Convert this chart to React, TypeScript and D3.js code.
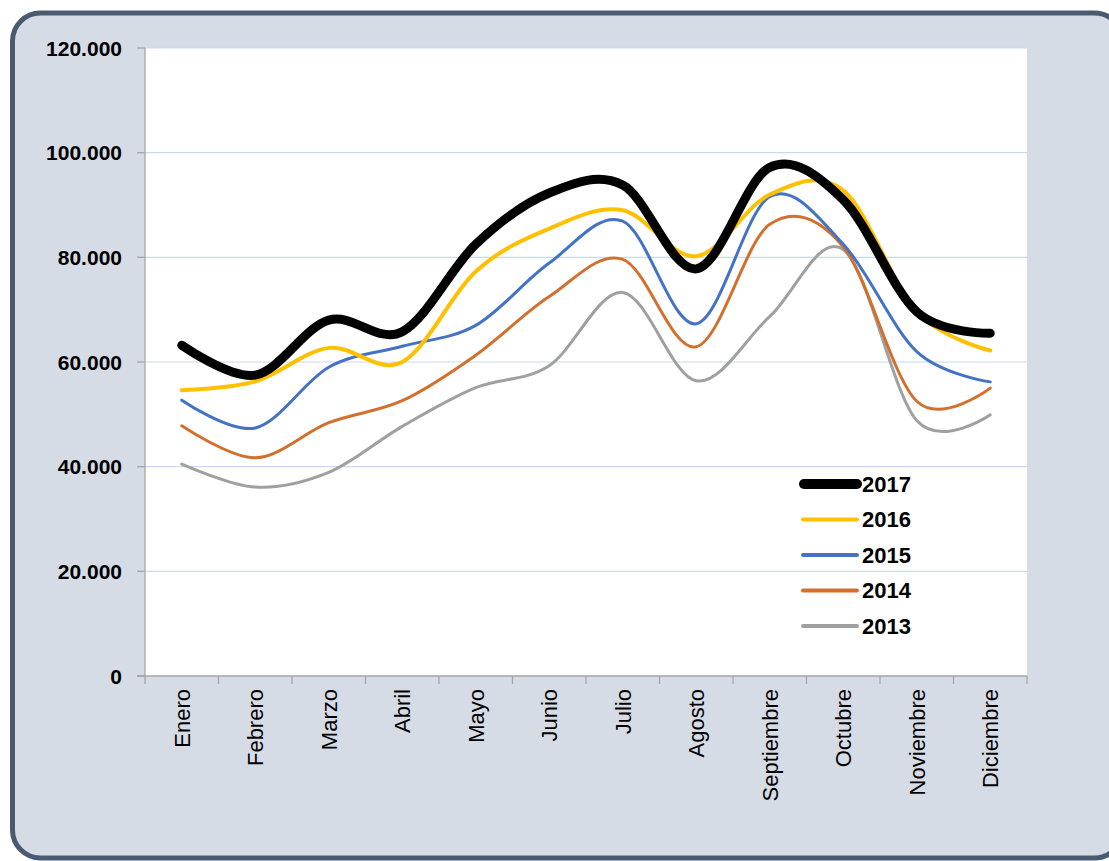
import React from "react";
import * as d3 from "d3";

const months = ["Enero","Febrero","Marzo","Abril","Mayo","Junio","Julio","Agosto","Septiembre","Octubre","Noviembre","Diciembre"];
const yTicks = [0, 20000, 40000, 60000, 80000, 100000, 120000];

const s2017 = [63200, 57500, 68000, 65800, 82500, 92300, 93800, 77800, 97200, 91000, 69600, 65500];
const s2016 = [54600, 56300, 62700, 60000, 77300, 85500, 89000, 80200, 92000, 92800, 69600, 62200];
const s2015 = [52700, 47400, 59000, 63000, 67000, 78900, 86900, 67300, 91600, 82500, 62000, 56200];
const s2014 = [47800, 41700, 48400, 52600, 61300, 72500, 79600, 62900, 86300, 82000, 52500, 55000];
const s2013 = [40500, 36100, 38900, 47700, 55100, 59300, 73300, 56400, 68700, 81500, 48800, 49900];

const seriesNames = ["2017", "2016", "2015", "2014", "2013"];
const seriesData = [s2017, s2016, s2015, s2014, s2013];
const seriesColors = ["#000000", "#ffc000", "#4472c4", "#d2702e", "#a0a0a0"];
const seriesWidths = [9, 4, 3, 3, 3];

const W = 1109, H = 861;
const plot = { left: 145, right: 1027, top: 48, bottom: 676 };

export default function App() {
  const x = d3.scaleBand<string>().domain(months).range([plot.left, plot.right]);
  const y = d3.scaleLinear().domain([0, 120000]).range([plot.bottom, plot.top]);
  const fmt = (v: number) => (v === 0 ? "0" : d3.format(",")(v).replace(/,/g, "."));
  const line = d3
    .line<number>()
    .x((_, i) => (x(months[i]) as number) + x.bandwidth() / 2)
    .y((d) => y(d))
    .curve(d3.curveCardinal.tension(0));

  const boundaries = d3.range(months.length + 1).map((i) => plot.left + i * x.step());
  const font = "'Liberation Sans', Arial, sans-serif";

  return (
    <svg width={W} height={H} style={{ position: "absolute", left: 0, top: 0 }} fontFamily={font}>
      <rect x={0} y={0} width={W} height={H} fill="#ffffff" />
      <rect x={12.5} y={13} width={1110} height={845} rx={28} ry={28} fill="#d6dce6" stroke="#4a5a70" strokeWidth={5} />
      <rect x={plot.left} y={plot.top} width={plot.right - plot.left} height={plot.bottom - plot.top} fill="#ffffff" />
      {yTicks.filter((t) => t > 0).map((t) => (
        <line key={"g" + t} x1={plot.left} x2={plot.right} y1={y(t)} y2={y(t)} stroke="#c6daf2" strokeWidth={1.2} />
      ))}
      <line x1={plot.left} x2={plot.left} y1={plot.top} y2={plot.bottom} stroke="#a6a6a6" strokeWidth={1.3} />
      <line x1={plot.left - 8} x2={plot.right} y1={plot.bottom} y2={plot.bottom} stroke="#a6a6a6" strokeWidth={1.5} />
      {yTicks.map((t) => (
        <g key={"t" + t}>
          <line x1={plot.left - 8} x2={plot.left} y1={y(t)} y2={y(t)} stroke="#a6a6a6" strokeWidth={1.3} />
          <text x={122} y={y(t)} dy="0.36em" textAnchor="end" fontSize={21} fontWeight="bold" fill="#000">
            {fmt(t)}
          </text>
        </g>
      ))}
      {boundaries.map((b, i) => (
        <line key={"b" + i} x1={b} x2={b} y1={plot.bottom} y2={plot.bottom + 8} stroke="#a6a6a6" strokeWidth={1.3} />
      ))}
      {months.map((m) => {
        const cx = (x(m) as number) + x.bandwidth() / 2;
        const ty = 689;
        return (
          <text key={m} transform={`translate(${cx},${ty}) rotate(-90)`} dy="0.36em" textAnchor="end" fontSize={22} fill="#000">
            {m}
          </text>
        );
      })}
      {seriesData.slice().reverse().map((d, ri) => {
        const i = seriesData.length - 1 - ri;
        return (
          <path key={seriesNames[i]} d={line(d) || ""} fill="none" stroke={seriesColors[i]} strokeWidth={seriesWidths[i]} strokeLinecap="round" strokeLinejoin="round" />
        );
      })}
      {seriesNames.map((n, i) => {
        const ly = 484 + i * 35.5;
        return (
          <g key={"l" + n}>
            <line x1={i === 0 ? 804 : 803} x2={857} y1={ly} y2={ly} stroke={seriesColors[i]} strokeWidth={seriesWidths[i] === 9 ? 10 : 4} strokeLinecap="round" />
            <text x={862} y={ly} dy="0.36em" fontSize={22} fontWeight="bold" fill="#000">{n}</text>
          </g>
        );
      })}
    </svg>
  );
}
